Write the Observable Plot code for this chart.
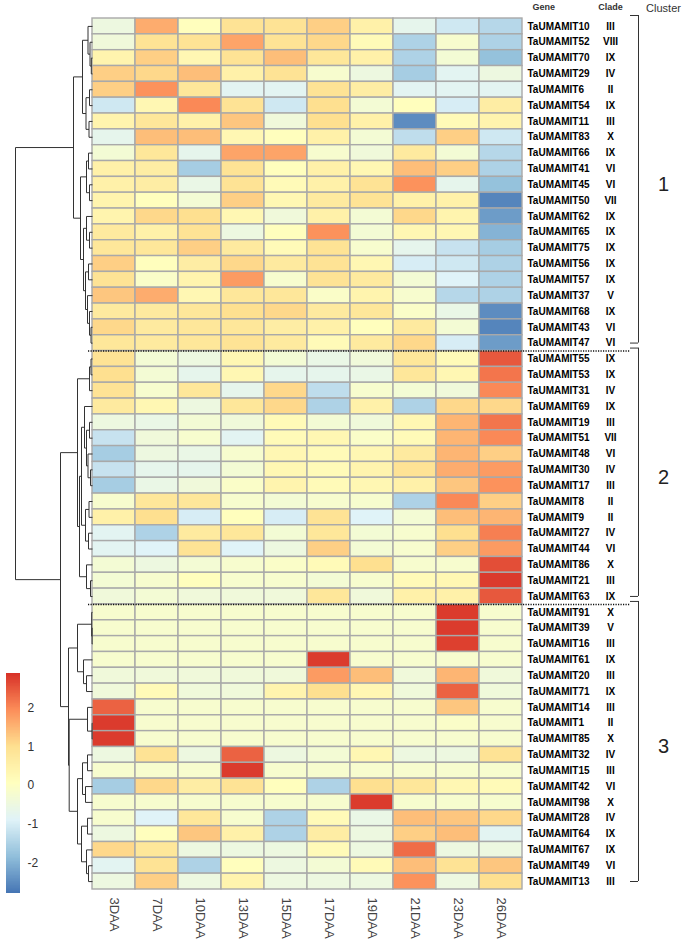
<!DOCTYPE html>
<html><head><meta charset="utf-8">
<script src="https://cdn.jsdelivr.net/npm/d3@7"></script>
<script src="https://cdn.jsdelivr.net/npm/@observablehq/plot@0.6"></script>
<style>
body{margin:0;background:#fff;}
#chart{position:relative;width:685px;height:949px;}
#chart svg{position:absolute;left:0;top:0;}
</style></head><body><div id="chart"></div>
<script>
const columns = ["3DAA","7DAA","10DAA","13DAA","15DAA","17DAA","19DAA","21DAA","23DAA","26DAA"];

const genes = ["TaUMAMIT10","TaUMAMIT52","TaUMAMIT70","TaUMAMIT29","TaUMAMIT6","TaUMAMIT54","TaUMAMIT11","TaUMAMIT83","TaUMAMIT66","TaUMAMIT41","TaUMAMIT45","TaUMAMIT50","TaUMAMIT62","TaUMAMIT65","TaUMAMIT75","TaUMAMIT56","TaUMAMIT57","TaUMAMIT37","TaUMAMIT68","TaUMAMIT43","TaUMAMIT47",
"TaUMAMIT55","TaUMAMIT53","TaUMAMIT31","TaUMAMIT69","TaUMAMIT19","TaUMAMIT51","TaUMAMIT48","TaUMAMIT30","TaUMAMIT17","TaUMAMIT8","TaUMAMIT9","TaUMAMIT27","TaUMAMIT44","TaUMAMIT86","TaUMAMIT21","TaUMAMIT63",
"TaUMAMIT91","TaUMAMIT39","TaUMAMIT16","TaUMAMIT61","TaUMAMIT20","TaUMAMIT71","TaUMAMIT14","TaUMAMIT1","TaUMAMIT85","TaUMAMIT32","TaUMAMIT15","TaUMAMIT42","TaUMAMIT98","TaUMAMIT28","TaUMAMIT64","TaUMAMIT67","TaUMAMIT49","TaUMAMIT13"];

const clades = ["III","VIII","IX","IV","II","IX","III","X","IX","VI","VI","VII","IX","IX","IX","IX","IX","V","IX","VI","VI",
"IX","IX","IV","IX","III","VII","VI","IV","III","II","II","IV","VI","X","III","IX",
"X","V","III","IX","III","IX","III","II","X","IV","III","VI","X","IV","IX","IX","VI","III"];

const clusterOf = [1,1,1,1,1,1,1,1,1,1,1,1,1,1,1,1,1,1,1,1,1,
2,2,2,2,2,2,2,2,2,2,2,2,2,2,2,2,
3,3,3,3,3,3,3,3,3,3,3,3,3,3,3,3,3,3];

const values = [
[-0.5, 1.6, 0.1, 0.9, 0.9, 1.2, 0.5, -0.7, -1.1, -1.4],
[-0.4, 0.9, 0.9, 1.7, 0.9, 1.1, 0.2, -1.5, -0.2, -1.5],
[0.4, 1.2, 0.3, 0.9, 1.4, 0.8, 0.5, -1.5, -0.3, -1.8],
[1.2, 1.1, 1.4, 0.5, 0.9, -0.2, -0.5, -1.6, -0.8, -0.5],
[1.2, 1.9, 0.8, -0.8, -0.8, 0.9, 0.6, -0.8, -0.8, -0.8],
[-1.1, 0.3, 2.0, 0.9, -1.1, 1.0, -0.3, 0.1, -1.0, 0.6],
[0.4, 0.8, 0.5, 1.3, -0.4, 1.0, 0.5, -2.5, 0.2, 0.4],
[-0.7, 1.4, 1.4, 0.3, 0.1, 0.5, -0.3, -1.3, 1.2, -1.1],
[-0.3, 0.8, -0.7, 1.7, 1.7, -0.2, -0.4, 0.7, -0.3, -1.4],
[0.5, 0.6, -1.6, 0.9, 0.1, 0.5, 0.3, 1.4, 1.2, -1.5],
[0.5, 0.6, -0.6, 0.9, 0.2, 0.5, 0.9, 1.9, -0.7, -1.8],
[0.4, 0.1, -0.3, 1.2, 0.3, 0.7, 0.9, 0.5, 0.5, -2.6],
[0.4, 1.1, 1.0, 0.3, -0.4, 0.5, -0.3, 1.1, 0.4, -2.3],
[0.7, 0.5, 0.9, -0.5, 0.1, 1.9, -0.3, 0.3, 0.3, -2.0],
[0.8, 0.8, 1.2, 0.7, 0.2, 0.9, -0.2, -0.7, -1.2, -1.6],
[1.2, 0.1, 0.6, 1.1, 0.7, 0.9, 0.3, -1.0, -1.1, -1.5],
[0.9, -0.1, 0.4, 1.8, -0.2, 0.9, 0.7, -0.3, -0.9, -1.5],
[1.3, 1.6, 0.3, 0.8, 0.8, -0.1, 0.4, -0.2, -1.4, -1.5],
[0.7, 0.7, 0.8, 1.0, 1.1, 0.7, 0.8, -0.1, -0.6, -2.5],
[1.1, 0.7, 0.8, 0.8, 0.6, 0.5, 0.1, 0.7, -0.3, -2.6],
[0.8, 0.7, 0.8, 0.9, 0.7, 0.2, 0.7, 1.1, -1.0, -2.3],
[0.9, -0.3, -0.5, 0.3, -0.3, -0.6, -0.4, 0.8, 0.2, 2.5],
[1.0, -0.3, -0.7, 0.3, -0.7, -0.7, -0.6, 0.8, 0.3, 2.2],
[0.9, -0.2, 0.8, -0.7, 1.1, -1.3, -0.2, -0.3, -0.4, 2.0],
[0.7, 0.3, -0.5, 0.8, 1.1, -1.5, 0.5, -1.5, 1.1, 1.1],
[-0.5, -0.6, -0.3, -0.4, 0.2, -0.3, -0.4, 0.3, 1.5, 2.2],
[-1.2, -0.4, -0.2, -0.8, 0.2, 0.3, -0.1, 0.2, 1.5, 2.0],
[-1.6, -0.5, -0.6, -0.2, 0.3, 0.2, 0.3, 0.7, 1.5, 1.2],
[-1.2, -0.7, -0.7, -0.3, 0.3, 0.2, 0.4, 0.9, 1.6, 1.8],
[-1.6, -0.6, -0.4, -0.1, 0.4, 0.2, 0.3, 0.5, 1.3, 1.9],
[-0.2, 0.8, 0.8, -0.2, -0.3, -0.2, -0.2, -1.5, 2.0, 1.2],
[0.5, 1.0, -1.0, 0.1, -1.0, 0.9, -0.9, -0.3, 1.4, 1.5],
[-0.8, -1.5, 0.7, 0.8, -0.3, 0.8, -0.3, -0.2, 1.0, 2.1],
[-0.8, -0.9, 0.9, -0.9, -0.5, 1.2, -0.3, -0.2, 1.2, 1.8],
[-0.3, -0.5, -0.3, -0.2, -0.1, 0.2, 1.0, -0.2, -0.2, 2.6],
[-0.3, -0.2, 0.1, -0.2, -0.2, -0.3, -0.2, 0.2, 0.3, 2.8],
[-0.4, -0.3, -0.4, -0.4, -0.4, 0.8, -0.4, 0.5, 0.5, 2.5],
[-0.2, -0.2, -0.2, -0.2, -0.2, -0.2, -0.2, -0.2, 2.8, -0.2],
[-0.2, -0.2, -0.2, -0.2, -0.2, -0.2, -0.2, -0.2, 2.8, -0.2],
[-0.2, -0.2, -0.2, -0.2, -0.2, -0.2, -0.2, -0.2, 2.75, -0.2],
[-0.2, -0.2, -0.2, -0.2, -0.2, 2.8, -0.2, -0.2, -0.2, -0.2],
[-0.4, -0.4, -0.4, -0.4, -0.4, 1.8, 1.4, -0.4, 1.5, -0.4],
[-0.4, 0.2, -0.4, -0.4, 0.4, 1.0, 0.3, -0.4, 2.4, -0.4],
[2.4, -0.2, -0.2, -0.2, -0.2, -0.2, -0.2, -0.2, 1.3, -0.2],
[2.8, -0.2, -0.2, -0.2, -0.2, -0.2, -0.2, -0.2, -0.1, -0.2],
[2.8, -0.2, -0.2, -0.2, -0.2, -0.2, -0.2, -0.2, -0.2, -0.2],
[-0.5, 0.9, -0.5, 2.4, -0.5, -0.3, 0.3, -0.5, -0.5, 0.9],
[-0.2, -0.2, -0.2, 2.8, -0.2, -0.2, -0.2, -0.2, -0.2, -0.2],
[-1.6, 1.1, 0.6, 0.9, 0.1, -1.5, 1.0, 0.8, 0.3, 0.2],
[-0.2, -0.2, -0.2, -0.2, -0.2, -0.2, 2.8, -0.2, -0.2, -0.2],
[-0.2, -0.9, 0.8, -0.2, -1.5, 0.2, -0.6, 1.4, 1.3, 1.1],
[-0.5, 0.1, 1.3, 0.5, -1.5, 0.6, -0.5, 1.2, 1.4, -0.8],
[1.1, 0.8, -0.5, -0.5, -0.5, 0.2, -0.5, 2.3, -0.5, -0.5],
[-0.8, 0.9, -1.5, 0.1, -0.5, -0.3, 0.2, 1.4, 0.9, 1.3],
[-0.5, 1.2, -0.5, 0.4, -0.5, -0.5, -0.5, 1.9, -0.5, 1.0]
];

// dendrogram: [height, child, child]; leaves are gene names
const dendrogram =
[77,
  [19,
    [10,
      [4.5, "TaUMAMIT10", [2.5, "TaUMAMIT52", [1.2, "TaUMAMIT70", "TaUMAMIT29"]]],
      [6.5, [3, "TaUMAMIT6", "TaUMAMIT54"], [3.5, "TaUMAMIT11", "TaUMAMIT83"]]],
    [12,
      [6, [4, "TaUMAMIT66", "TaUMAMIT41"], [3, "TaUMAMIT45", "TaUMAMIT50"]],
      [9,
        [6, "TaUMAMIT62", [3, "TaUMAMIT65", "TaUMAMIT75"]],
        [7, [4, "TaUMAMIT56", "TaUMAMIT57"], [5, "TaUMAMIT37", [3, "TaUMAMIT68", [1.5, "TaUMAMIT43", "TaUMAMIT47"]]]]]]],
  [32,
    [15,
      [3, [1.5, "TaUMAMIT55", "TaUMAMIT53"], "TaUMAMIT31"],
      [13,
        [11,
          [8, "TaUMAMIT69", [6, [3, "TaUMAMIT19", "TaUMAMIT51"], [4.5, "TaUMAMIT48", [2, "TaUMAMIT30", "TaUMAMIT17"]]]],
          [7, [3.5, "TaUMAMIT8", "TaUMAMIT9"], [4, "TaUMAMIT27", "TaUMAMIT44"]]],
        [6, "TaUMAMIT86", [2, "TaUMAMIT21", "TaUMAMIT63"]]]],
    [24,
      [15, [0.8, "TaUMAMIT91", [0.4, "TaUMAMIT39", "TaUMAMIT16"]], [9, "TaUMAMIT61", [6, "TaUMAMIT20", "TaUMAMIT71"]]],
      [23.3,
        [5, "TaUMAMIT14", [0.4, "TaUMAMIT1", "TaUMAMIT85"]],
        [15,
          [10, [5, "TaUMAMIT32", "TaUMAMIT15"], [7, "TaUMAMIT42", "TaUMAMIT98"]],
          [11, [5, "TaUMAMIT28", "TaUMAMIT64"], [6, "TaUMAMIT67", [4, "TaUMAMIT49", "TaUMAMIT13"]]]]]]]
];

const legendTicks = [-2, -1, 0, 1, 2];
const legendRange = [-2.8, 2.91];
const palette = ["#4575b4","#91bfdb","#e0f3f8","#ffffbf","#fee090","#fc8d59","#d73027"];

// ---------- derived ----------
const [lo, hi] = legendRange;
const colorOpts = {type: "linear", domain: palette.map((_, i) => lo + i * (hi - lo) / (palette.length - 1)), range: palette, interpolate: "rgb"};
const nRows = genes.length, nCols = columns.length;
const cells = genes.flatMap((g, r) => columns.map((c, ci) => ({gene: g, col: c, r, ci, v: values[r][ci]})));
const clusters = d3.groups(genes.map((g, i) => ({g, i, c: clusterOf[i]})), d => d.c)
  .map(([id, arr]) => ({id, start: arr[0].i, end: arr[arr.length - 1].i + 1}));
const boundaries = clusters.slice(1).map(d => d.start);

const FONT = "'Liberation Sans', Arial, Helvetica, sans-serif";
const off = p => nCols + p / 43; // pixels past the right edge of the heatmap

// dendrogram segments
const rowIndex = new Map(genes.map((g, i) => [g, i]));
const segs = [];
function walk(node) {
  if (typeof node === "string") return {h: 0, y: rowIndex.get(node) + 0.5};
  const [h, ...kids] = node;
  const ch = kids.map(walk);
  ch.forEach(c => segs.push({x1: c.h, y1: c.y, x2: h, y2: c.y}));
  const ys = ch.map(c => c.y);
  segs.push({x1: h, y1: d3.min(ys), x2: h, y2: d3.max(ys)});
  return {h, y: d3.mean(ys)};
}
walk(dendrogram);

const heat = Plot.plot({
  width: 685, height: 949, margin: 0,
  style: `background: white; font-family: ${FONT}; overflow: visible;`,
  x: {domain: [0, nCols], range: [92, 522], axis: null},
  y: {domain: [0, nRows], range: [18, 889], axis: null},
  color: colorOpts,
  marks: [
    Plot.rect(cells, {x1: "ci", x2: d => d.ci + 1, y1: "r", y2: d => d.r + 1, fill: "v", stroke: "#a9a9a9", strokeWidth: 1.4}),
    Plot.ruleY(boundaries, {y: d => d, x1: -4 / 43, x2: off(108), stroke: "#111", strokeWidth: 1.6, strokeDasharray: "1.2,1.3"}),
    Plot.text(genes, {x: nCols, y: (d, i) => i + 0.5, text: d => d, dx: 5, textAnchor: "start", fontWeight: "bold", fontSize: 10, fill: "#000"}),
    Plot.text(clades, {x: nCols, y: (d, i) => i + 0.5, text: d => d, dx: 88, textAnchor: "middle", fontWeight: "bold", fontSize: 10, fill: "#000"}),
    Plot.text(["Gene"], {x: nCols, y: 0, dx: 10, dy: -11, textAnchor: "start", fontWeight: "bold", fontSize: 9, fill: "#333"}),
    Plot.text(["Clade"], {x: nCols, y: 0, dx: 88, dy: -11, textAnchor: "middle", fontWeight: "bold", fontSize: 9, fill: "#333"}),
    Plot.text(["Cluster"], {x: nCols, y: 0, dx: 141, dy: -10, textAnchor: "middle", fontSize: 11, fill: "#333"}),
    Plot.ruleX(clusters, {x: off(116), y1: "start", y2: "end", insetTop: -3, insetBottom: 8, stroke: "#333", strokeWidth: 1}),
    Plot.ruleY(clusters, {y: "start", x1: off(108), x2: off(116), dy: -3, stroke: "#333", strokeWidth: 1}),
    Plot.ruleY(clusters, {y: "end", x1: off(108), x2: off(116), dy: -8, stroke: "#333", strokeWidth: 1}),
    Plot.text(clusters, {x: nCols, y: d => (d.start + d.end) / 2, text: d => String(d.id), dx: 141, fontSize: 20, fill: "#222"}),
    Plot.text(columns, {x: (d, i) => i + 0.5, y: nRows, text: d => d, dy: 8, rotate: 90, textAnchor: "start", fontSize: 13, fill: "#444"})
  ]
});

const dendro = Plot.plot({
  width: 685, height: 949, margin: 0,
  style: `background: transparent; font-family: ${FONT}; overflow: visible;`,
  x: {domain: [92, 0], range: [0, 92], axis: null},
  y: {domain: [0, nRows], range: [18, 889], axis: null},
  marks: [
    Plot.link(segs, {x1: "x1", y1: "y1", x2: "x2", y2: "y2", stroke: "#333", strokeWidth: 1})
  ]
});

const step = 0.02;
const slices = d3.range(lo, hi, step);
const legend = Plot.plot({
  width: 685, height: 949, margin: 0,
  style: `background: transparent; font-family: ${FONT}; overflow: visible;`,
  x: {domain: [0, 1], range: [6, 20], axis: null},
  y: {domain: [lo, hi], range: [893, 673], axis: null},
  color: colorOpts,
  marks: [
    Plot.rect(slices, {x1: 0, x2: 1, y1: d => d, y2: d => Math.min(hi, d + step * 1.6), fill: d => d + step / 2, shapeRendering: "crispEdges"}),
    Plot.text(legendTicks, {x: 1, y: d => d, text: d => String(d), dx: 7, textAnchor: "start", fontSize: 12, fill: "#333"})
  ]
});

const root = document.getElementById("chart");
root.append(heat, dendro, legend);
</script></body></html>
